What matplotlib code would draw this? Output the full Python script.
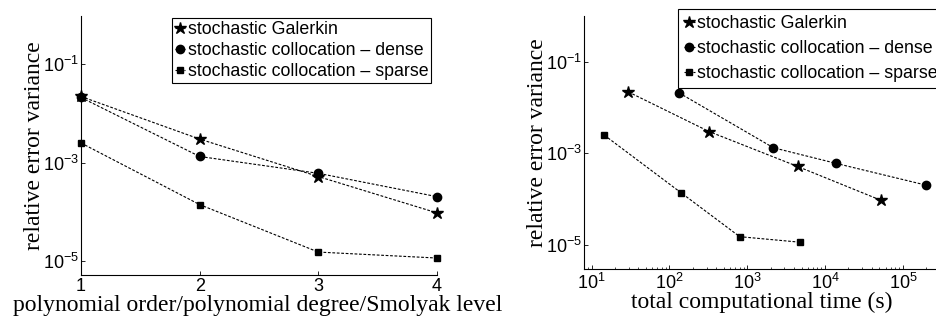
import matplotlib
matplotlib.use("Agg")
import matplotlib.pyplot as plt
from matplotlib.ticker import LogLocator, NullLocator, NullFormatter

plt.rcParams["font.family"] = ["Liberation Sans", "DejaVu Sans"]
plt.rcParams["mathtext.default"] = "regular"

# данные
levels = [1, 2, 3, 4]
err_galerkin = [0.022, 3.0e-3, 5.2e-4, 9.5e-5]
err_dense = [0.021, 1.33e-3, 6.05e-4, 2.03e-4]
err_sparse = [2.5e-3, 1.4e-4, 1.52e-5, 1.15e-5]

time_galerkin = [29.7, 324, 4430, 52100]
time_dense = [133, 2170, 13900, 198000]
time_sparse = [14.6, 140, 802, 4830]

labels = ["stochastic Galerkin",
          "stochastic collocation \u2013 dense",
          "stochastic collocation \u2013 sparse"]
markers = ["*", "o", "s"]
msizes = [9, 6, 5]

SERIF = ["Liberation Serif", "DejaVu Serif"]
LABEL_FS = 17

fig = plt.figure(figsize=(9.37, 3.16), dpi=100)
ax1 = fig.add_axes([81 / 937, 41 / 316, 356 / 937, 259 / 316])
ax2 = fig.add_axes([584 / 937, 46.7 / 316, 356 / 937, 253.3 / 316])

line_kw = dict(color="black", linestyle=(0, (2.5, 1.5)), linewidth=0.8,
               markerfacecolor="black", markeredgecolor="black")

for ys, m, ms, lab in zip([err_galerkin, err_dense, err_sparse], markers, msizes, labels):
    ax1.plot(levels, ys, marker=m, markersize=ms, label=lab, clip_on=False, **line_kw)

for xs, ys, m, ms, lab in zip([time_galerkin, time_dense, time_sparse],
                              [err_galerkin, err_dense, err_sparse], markers, msizes, labels):
    ax2.plot(xs, ys, marker=m, markersize=ms, label=lab, clip_on=False, **line_kw)

for ax in (ax1, ax2):
    ax.set_yscale("log")
    ax.spines["top"].set_visible(False)
    ax.spines["right"].set_visible(False)
    ax.spines["left"].set_linewidth(0.8)
    ax.spines["bottom"].set_linewidth(0.8)
    ax.set_yticks([1e-5, 1e-3, 1e-1])
    ax.yaxis.set_minor_locator(NullLocator())
    ax.tick_params(which="major", direction="in", length=3, width=0.6, labelsize=13)
    ax.tick_params(axis="y", pad=1.5)
    ax.tick_params(axis="x", pad=2.5)
    ax.set_ylabel("relative error variance", family=SERIF, fontsize=LABEL_FS)
    ax.yaxis.set_label_coords(-0.1, 0.5)

ax1.set_xlim(1, 4)
ax1.set_ylim(5.2e-6, 0.95)
ax1.set_xticks(levels)
ax1.set_xlabel("polynomial order/polynomial degree/Smolyak level", family=SERIF, fontsize=LABEL_FS)
ax1.xaxis.set_label_coords(0.495, -0.077)

ax2.set_xscale("log")
ax2.set_xlim(8, 3e5)
ax2.set_ylim(2.95e-6, 1.0)
ax2.xaxis.set_major_locator(LogLocator(base=10, numticks=10))
ax2.xaxis.set_minor_locator(LogLocator(base=10, subs=range(2, 10), numticks=20))
ax2.xaxis.set_minor_formatter(NullFormatter())
ax2.tick_params(which="minor", direction="in", length=1.5, width=0.5)
ax2.set_xlabel("total computational time (s)", family=SERIF, fontsize=LABEL_FS)
ax2.xaxis.set_label_coords(0.5, -0.09)

leg_kw = dict(fontsize=12.8, handlelength=0.6, handletextpad=0.15,
              fancybox=False, edgecolor="black", framealpha=1,
              borderaxespad=0, numpoints=1, handleheight=0.6)
leg1 = ax1.legend(loc="upper left", bbox_to_anchor=(171.7 / 937, 1 - 18.3 / 316),
                  bbox_transform=fig.transFigure, borderpad=0.16, labelspacing=0.22, **leg_kw)
leg2 = ax2.legend(loc="upper left", bbox_to_anchor=(678 / 937, 1 - 9 / 316),
                  bbox_transform=fig.transFigure, borderpad=0.34, labelspacing=0.44, **leg_kw)
for leg in (leg1, leg2):
    leg.get_frame().set_linewidth(0.8)

fig.savefig("out.png", dpi=100)
